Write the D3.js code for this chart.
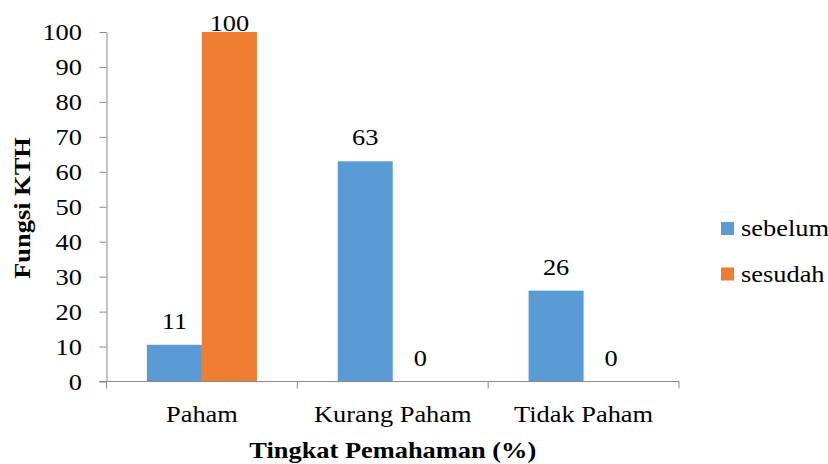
<!DOCTYPE html>
<html>
<head>
<meta charset="utf-8">
<script src="https://cdn.jsdelivr.net/npm/d3@7"></script>
<style>
  html, body { margin: 0; padding: 0; background: #fff; }
</style>
</head>
<body>
<svg id="chart" width="828" height="464"></svg>
<script>
const categories = ["Paham", "Kurang Paham", "Tidak Paham"];
const seriesNames = ["sebelum", "sesudah"];
const sebelum = [10.5, 63, 26];
const sesudah = [100, 0, 0];
const yTicks = [0, 10, 20, 30, 40, 50, 60, 70, 80, 90, 100];
const colors = ["#5B9BD5", "#ED7D31"];
const yTitle = "Fungsi KTH";
const xTitle = "Tingkat Pemahaman (%)";

const svg = d3.select("#chart");
const axisColor = "#898989";
const fontFam = "'Liberation Serif', 'DejaVu Serif', serif";
const fs = 24, sx = 1.1;

const x0 = d3.scaleBand().domain(categories).range([106.5, 679]).paddingInner(0).paddingOuter(0);
const x1 = d3.scaleBand().domain(seriesNames).range([0, x0.bandwidth()]).paddingInner(0).paddingOuter(0.7345);
const y = d3.scaleLinear().domain([0, 100]).range([381.5, 32]);

const values = [sebelum, sesudah];

function stext(g, txt, xx, yy, anchor, weight) {
  return g.append("text")
    .attr("transform", `translate(${xx},${yy}) scale(${sx},1)`)
    .attr("text-anchor", anchor)
    .style("font-family", fontFam)
    .style("font-size", fs + "px")
    .style("font-weight", weight || "normal")
    .attr("fill", "#000")
    .text(txt);
}

// bars
const gBars = svg.append("g");
seriesNames.forEach((s, si) => {
  categories.forEach((c, ci) => {
    const v = values[si][ci];
    gBars.append("rect")
      .attr("x", x0(c) + x1(s))
      .attr("y", y(v))
      .attr("width", x1.bandwidth())
      .attr("height", y(0) - y(v))
      .attr("fill", colors[si]);
  });
});

// y axis
const yAxis = d3.axisLeft(y).tickValues(yTicks).tickSize(7).tickSizeOuter(0).tickPadding(0);
const gy = svg.append("g").attr("transform", "translate(106.5,0)").call(yAxis);
gy.selectAll("path.domain").attr("stroke", axisColor);
gy.selectAll(".tick line").attr("stroke", axisColor);
gy.selectAll(".tick text").remove();
yTicks.forEach(t => stext(svg, String(t), 82, y(t) + 8, "end"));

// x axis
const gx = svg.append("g");
gx.append("line").attr("x1", 99).attr("x2", 679).attr("y1", y(0)).attr("y2", y(0)).attr("stroke", axisColor);
const bounds = categories.map(c => x0(c)).concat([x0(categories[categories.length - 1]) + x0.bandwidth()]);
bounds.forEach(b => {
  gx.append("line").attr("x1", b).attr("x2", b).attr("y1", y(0)).attr("y2", y(0) + 7).attr("stroke", axisColor);
});
categories.forEach(c => stext(svg, c, x0(c) + x0.bandwidth() / 2, 421.5, "middle"));

// data labels
seriesNames.forEach((s, si) => {
  categories.forEach((c, ci) => {
    const v = values[si][ci];
    const by = Math.max(y(v) - 16, 31);
    stext(svg, String(Math.round(v)), x0(c) + x1(s) + x1.bandwidth() / 2, by, "middle");
  });
});

// axis titles
stext(svg, xTitle, x0(categories[1]) + x0.bandwidth() / 2, 458, "middle", "bold");
svg.append("text")
  .attr("transform", `translate(30,208) rotate(-90) scale(${sx},1)`)
  .attr("text-anchor", "middle")
  .style("font-family", fontFam)
  .style("font-size", fs + "px")
  .style("font-weight", "bold")
  .attr("fill", "#000")
  .text(yTitle);

// legend
const lg = svg.append("g");
seriesNames.forEach((s, i) => {
  const ly = 222 + i * 45.5;
  lg.append("rect").attr("x", 721).attr("y", ly).attr("width", 13).attr("height", 13).attr("fill", colors[i]);
  stext(lg, s, 741, ly + 14, "start");
});
</script>
</body>
</html>
